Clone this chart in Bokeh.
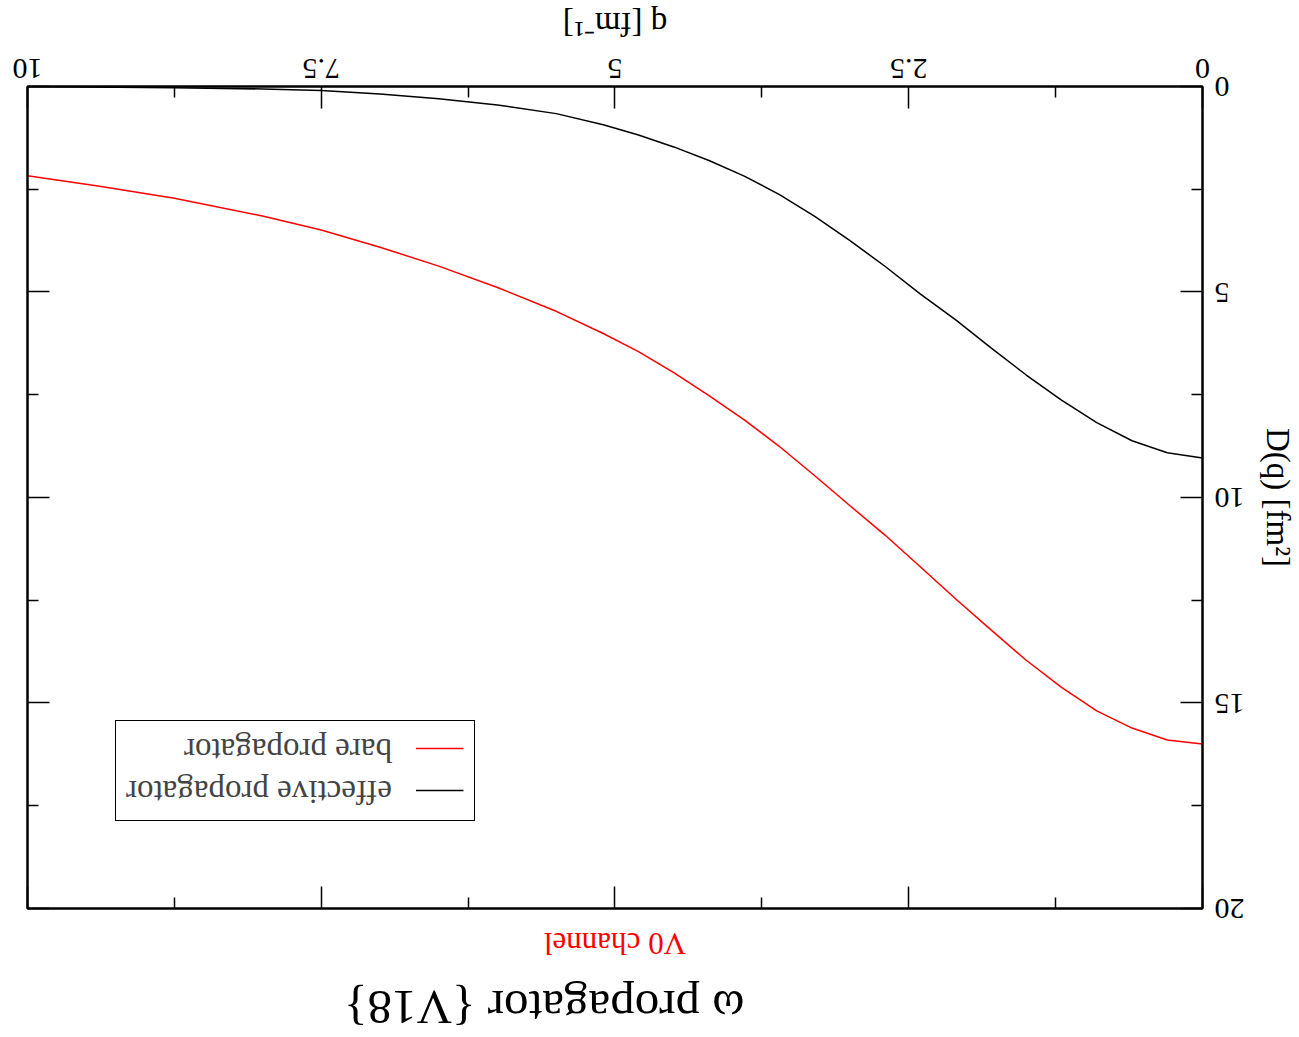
from bokeh.plotting import figure
from bokeh.models import Range1d, FixedTicker, LinearAxis, Legend, Title
from bokeh.embed import file_html
from bokeh.resources import INLINE

# ---- data ----
q_effective = [0.0, 0.3, 0.6, 0.9, 1.2, 1.5, 1.8, 2.1, 2.4, 2.7, 3.0, 3.3, 3.6, 3.9,
               4.2, 4.5, 4.8, 5.1, 5.5, 6.0, 6.5, 7.0, 7.5, 8.0, 8.75, 10.0]
d_effective = [9.04, 8.91, 8.62, 8.18, 7.63, 7.02, 6.36, 5.68, 5.05, 4.38, 3.75, 3.16, 2.63, 2.18,
               1.80, 1.47, 1.18, 0.93, 0.66, 0.45, 0.30, 0.18, 0.10, 0.06, 0.03, 0.0]
q_bare = [0.0, 0.3, 0.6, 0.9, 1.2, 1.5, 1.8, 2.1, 2.4, 2.7, 3.0, 3.3, 3.6, 3.9,
          4.2, 4.5, 4.8, 5.1, 5.5, 6.0, 6.5, 7.0, 7.5, 8.0, 8.75, 9.4, 10.0]
d_bare = [16.00, 15.90, 15.61, 15.19, 14.62, 13.96, 13.22, 12.47, 11.69, 10.92, 10.20, 9.47, 8.76, 8.11,
          7.52, 6.96, 6.45, 6.01, 5.47, 4.89, 4.37, 3.91, 3.49, 3.15, 2.72, 2.42, 2.17]

x_ticks = [0, 2.5, 5, 7.5, 10]
x_minor = [1.25, 3.75, 6.25, 8.75]
x_tick_labels = ["0", "2.5", "5", "7.5", "10"]
y_ticks = [0, 5, 10, 15, 20]
y_minor = [2.5, 7.5, 12.5, 17.5]
y_tick_labels = ["0", "5", "10", "15", "20"]

title_text = "ω propagator {V18}"
subtitle_text = "V0 channel"
x_label = "q [fm⁻¹]"
y_label = "D(q) [fm²]"
series_names = ["effective propagator", "bare propagator"]

FONT = "Liberation Serif"

p = figure(width=1299, height=1037, output_backend="svg", toolbar_location=None,
           x_range=Range1d(0, 10), y_range=Range1d(0, 20), title=None,
           min_border_left=96, min_border_right=28, min_border_top=127, min_border_bottom=87)
# the reference chart is shown turned upside down
p.styles = {"transform": "rotate(180deg)"}
p.grid.visible = False
p.outline_line_color = "black"
p.outline_line_width = 2
p.background_fill_color = "white"
p.border_fill_color = "white"


def style_axis(ax, ticks, minor, labels, show_labels):
    ax.ticker = FixedTicker(ticks=ticks, minor_ticks=minor)
    ax.major_tick_in = 22
    ax.major_tick_out = 0
    ax.minor_tick_in = 11
    ax.minor_tick_out = 0
    ax.major_tick_line_width = 1.5
    ax.minor_tick_line_width = 1.5
    ax.major_tick_line_color = "black"
    ax.minor_tick_line_color = "black"
    ax.axis_line_color = "black"
    ax.axis_line_width = 2
    ax.major_label_text_font = FONT
    if show_labels:
        ax.major_label_overrides = {t: l for t, l in zip(ticks, labels)}
        ax.major_label_text_font_size = "30px"
        ax.major_label_text_color = "black"
    else:
        ax.major_label_text_font_size = "1px"
        ax.major_label_text_color = None
        ax.major_label_standoff = 0


xa = p.xaxis[0]
ya = p.yaxis[0]
style_axis(xa, x_ticks, x_minor, x_tick_labels, True)
style_axis(ya, y_ticks, y_minor, y_tick_labels, True)
xa.major_label_standoff = 9
ya.major_label_standoff = 12
xa.axis_label = x_label
ya.axis_label = y_label
for ax in (xa, ya):
    ax.axis_label_text_font = FONT
    ax.axis_label_text_font_size = "33px"
    ax.axis_label_text_font_style = "normal"
    ax.axis_label_text_color = "black"
xa.axis_label_standoff = 14
ya.axis_label_standoff = 12

# mirror ticks on the other two sides
top_axis = LinearAxis()
right_axis = LinearAxis()
style_axis(top_axis, x_ticks, x_minor, x_tick_labels, False)
style_axis(right_axis, y_ticks, y_minor, y_tick_labels, False)
top_axis.major_label_standoff = 8
p.add_layout(top_axis, "above")
p.add_layout(right_axis, "right")

r_eff = p.line(q_effective, d_effective, line_color="black", line_width=1.5)
r_bare = p.line(q_bare, d_bare, line_color="#ff0000", line_width=1.5)

legend = Legend(items=[(series_names[0], [r_eff]), (series_names[1], [r_bare])],
                location=(728, 633), margin=0, padding=10, spacing=5,
                glyph_width=48, glyph_height=36, label_height=36, label_standoff=24,
                label_text_font=FONT, label_text_font_size="33px",
                border_line_color="black", border_line_width=1.5, border_line_alpha=1.0,
                background_fill_color="white", background_fill_alpha=1.0)
p.add_layout(legend)

sub = Title(text=subtitle_text, align="center", text_font=FONT, text_font_size="31px",
            text_font_style="normal", text_color="#ff0000", standoff=34)
p.add_layout(sub, "above")
main = Title(text=title_text, align="left", text_font=FONT, text_font_size="49px",
             text_font_style="normal", text_color="black", offset=458, standoff=0)
p.add_layout(main, "above")

open("out.html", "w").write(file_html(p, INLINE))
